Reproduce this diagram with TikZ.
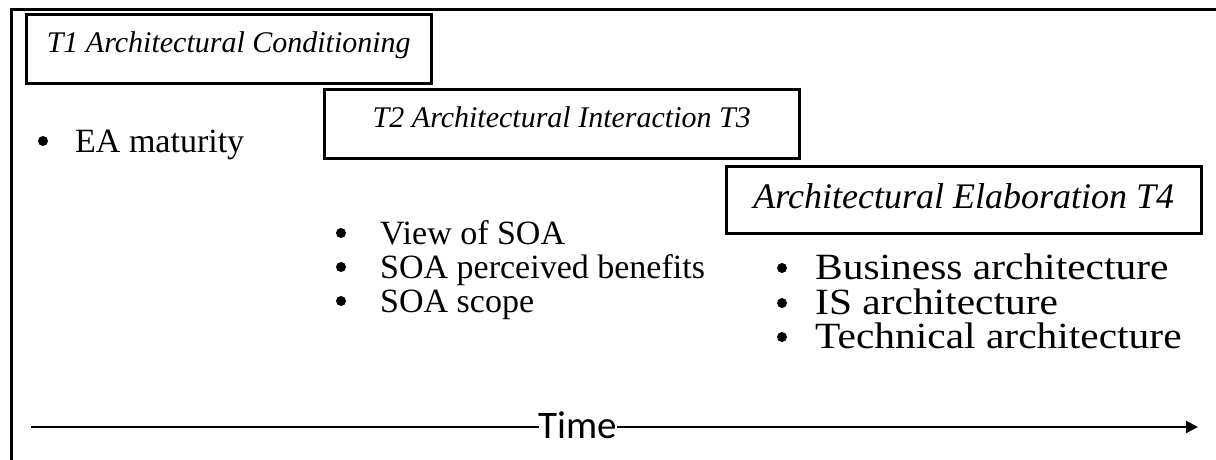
\documentclass[tikz,border=0pt]{standalone}
\usepackage{fontspec}
\setmainfont{Liberation Serif}
\newfontfamily\widefont[FakeStretch=1.12]{Liberation Serif}
\newfontfamily\timefont{Carlito}
\usepackage{tikz}
\usetikzlibrary{arrows.meta}

\begin{document}
\begin{tikzpicture}[x=1pt, y=-1pt, every node/.style={font=\fontsize{34}{36}\selectfont}]
  \tikzstyle{phase}=[draw,line width=2.5pt,inner sep=0pt,anchor=north west,minimum width=475pt,font=\fontsize{30}{30}\selectfont\itshape]
  \tikzstyle{itm}=[anchor=base west,inner sep=0pt]
  \tikzstyle{dot}=[circle,fill,inner sep=0pt,minimum size=10pt]
  \useasboundingbox (0,0) rectangle (1216,459);
  \draw[line width=3pt] (11,9) rectangle (1240,490);
  % phase boxes
  \node[phase,minimum width=405pt,text height=38pt,text depth=31pt] (t1) at (25,13) {T1 Architectural Conditioning};
  \node[phase,text height=38pt,text depth=31pt] (t2) at (323,88) {T2 Architectural Interaction T3};
  \node[phase,text height=42pt,text depth=25pt,font=\fontsize{36}{36}\selectfont\itshape] (t3) at (725,165) {Architectural Elaboration T4};
  % bullet lists
  \node[dot] (d0) at (43,141) {};
  \node[itm] (ea) at (75,152) {EA maturity};
  \foreach \i/\y/\txt in {1/244/View of SOA, 2/278/SOA perceived benefits, 3/312/SOA scope} {
    \node[dot] (s\i) at (341,\y-11) {};
    \node[itm] (soa\i) at (380,\y) {\txt};
  }
  \foreach \i/\y/\txt in {1/279/Business architecture, 2/314/IS architecture, 3/348/Technical architecture} {
    \node[dot] (a\i) at (782,\y-11) {};
    \node[itm,font=\widefont\fontsize{37}{36}\selectfont] (arch\i) at (815,\y) {\txt};
  }
  % time axis
  \node[anchor=base,inner sep=0pt,font=\timefont\fontsize{39}{39}\selectfont] (time) at (578,438) {Time};
  \coordinate (tl) at (31,427);
  \coordinate (tr) at (1198,427);
  \draw[line width=2pt] (tl) -- (time.west |- tl);
  \draw[line width=2pt,-{Triangle[length=12pt,width=12pt]}] (time.east |- tr) -- (tr);
\end{tikzpicture}
\end{document}
